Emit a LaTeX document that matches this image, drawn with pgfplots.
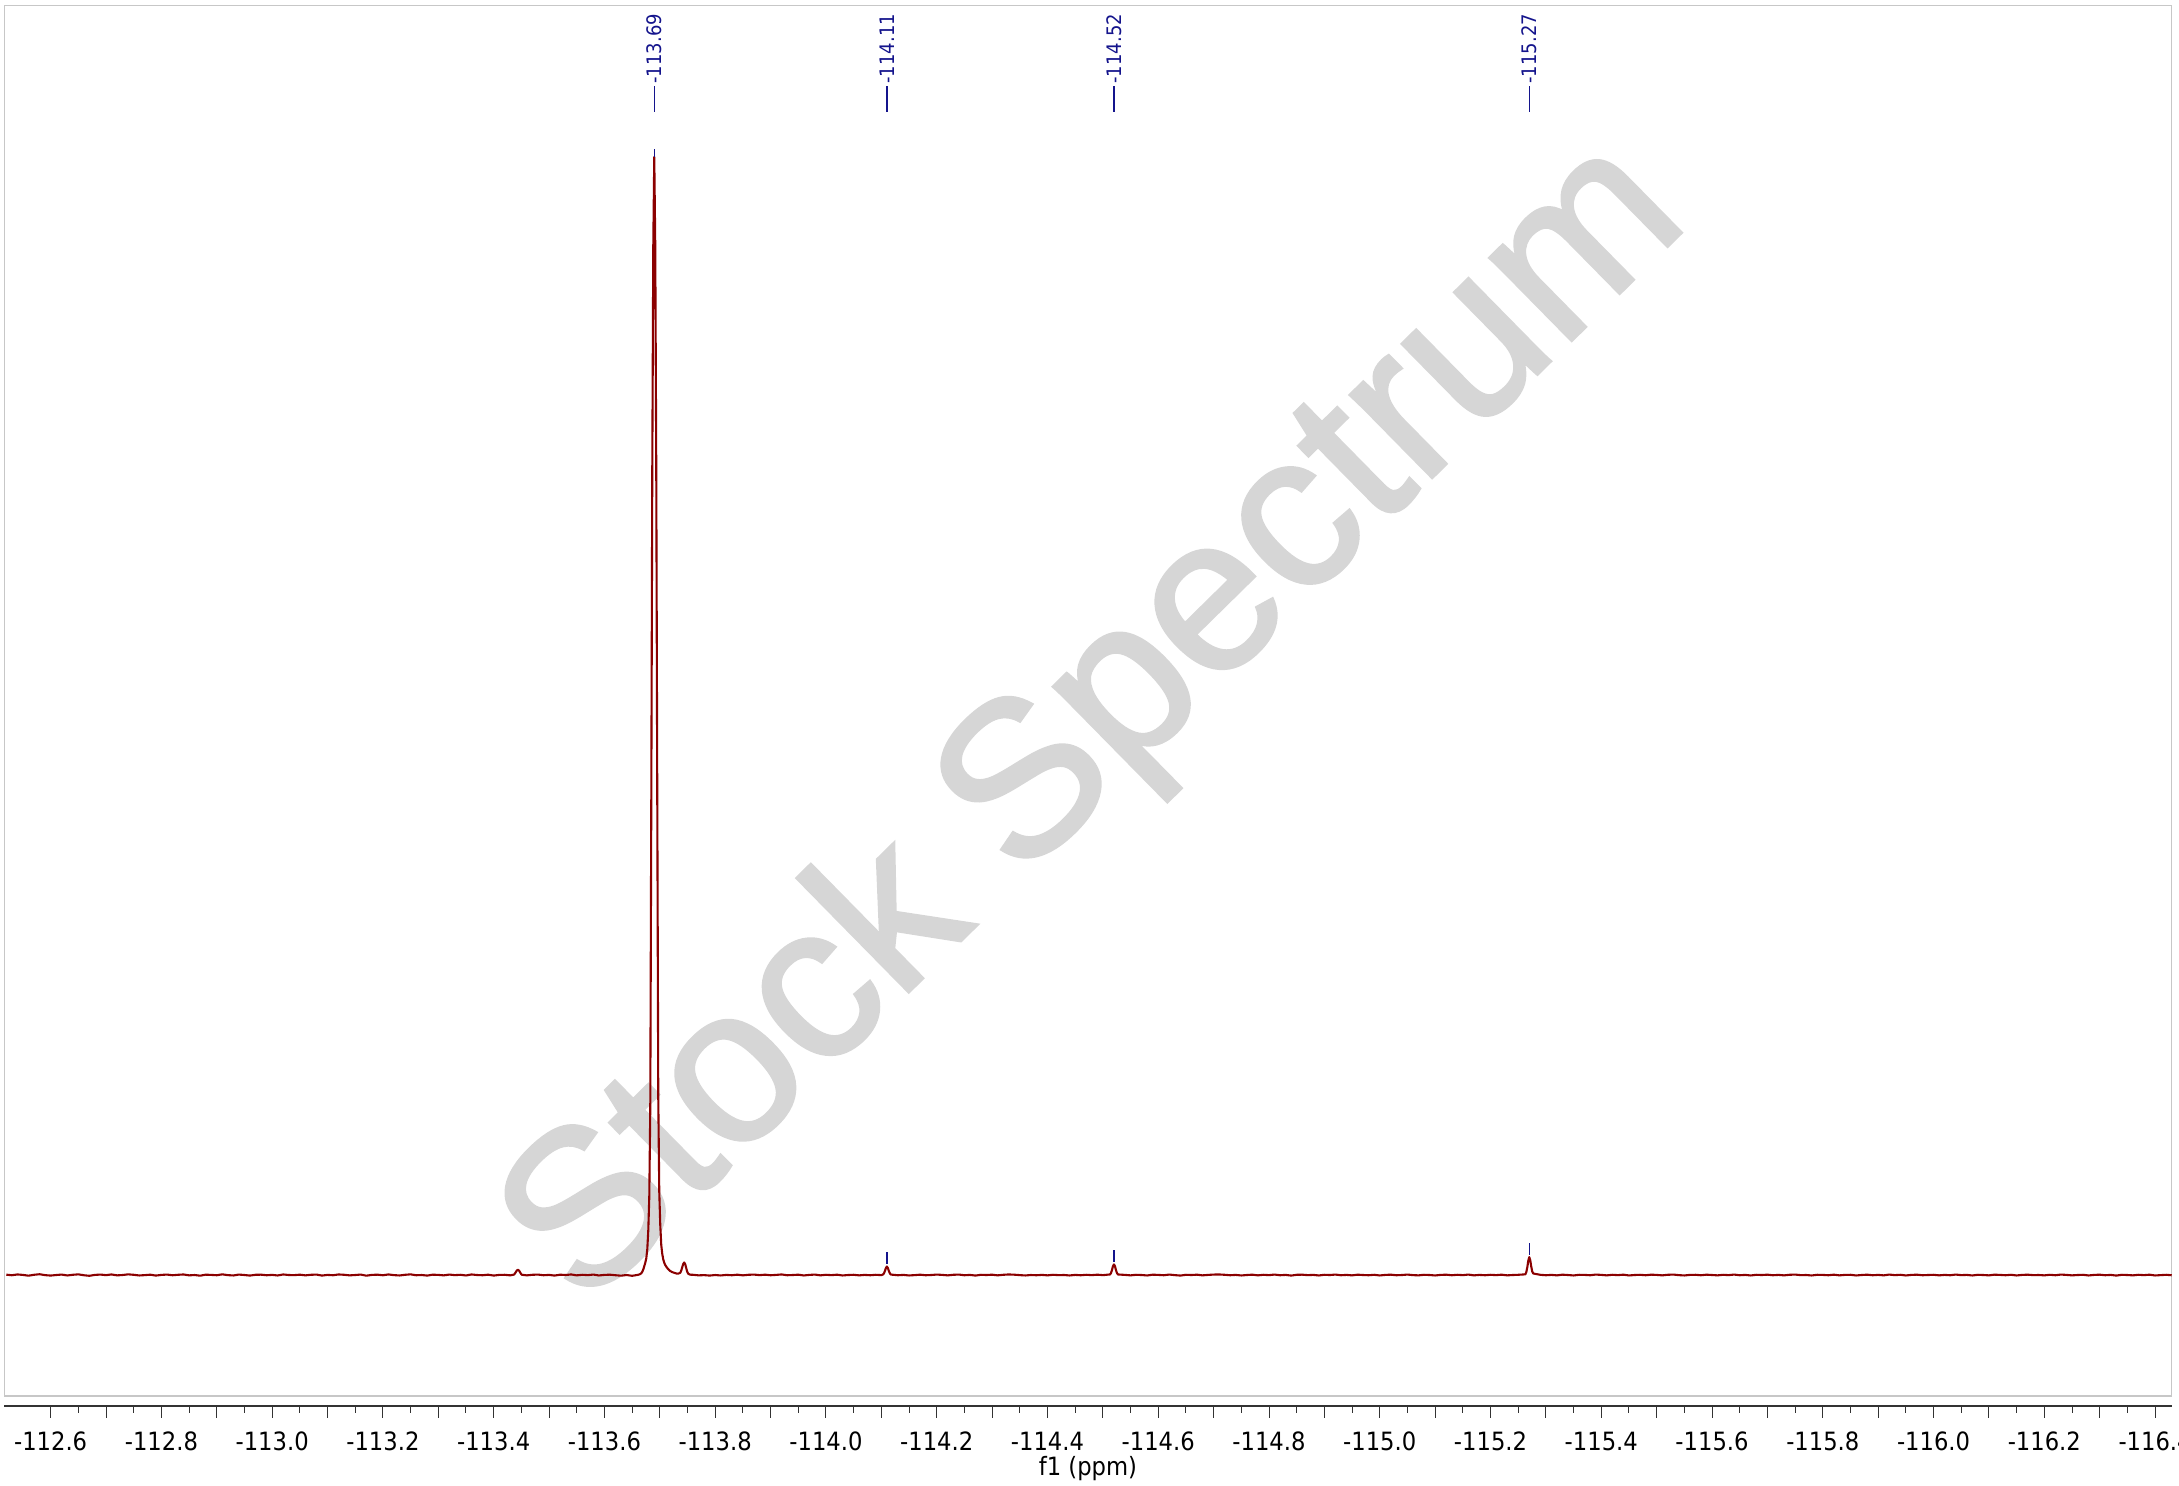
\documentclass[border=0pt]{standalone}
\usepackage{pgfplots}
\pgfplotsset{compat=1.18}
\usepackage{fontspec}
\setmainfont{Liberation Sans}
\newfontfamily\wmfont[FakeBold=1.5]{Liberation Sans}
\newfontfamily\tickfont[FakeStretch=0.9]{DejaVu Sans}
\definecolor{specred}{RGB}{139,0,0}
\definecolor{pknavy}{RGB}{20,20,140}
\begin{document}
\begin{tikzpicture}
% watermark (behind everything)
\node[rotate=44.5, text=black!16, font=\wmfont\fontsize{110}{110}\selectfont, inner sep=0pt] at (546.9pt,335pt) {Stock Spectrum};
\begin{axis}[
  at={(0pt,0pt)}, anchor=south west,
  scale only axis, width=1083.7pt, height=695.15pt,
  xmin=-116.4300, xmax=-112.5163, x dir=reverse,
  ymin=-0.1082, ymax=1.1353,
  ticks=none,
  axis line style={draw=black!22, line width=0.7pt},
  clip=false,
]
\addplot[specred, line width=1.05pt, line join=round] coordinates {
(-112.52,0.0003) (-112.53,-0.0002) (-112.54,0.0005) (-112.55,0.0001) (-112.56,-0.0006) (-112.57,0.0002) (-112.58,0.0007) (-112.59,-0.0001) (-112.60,-0.0005) (-112.61,0.0000)
(-112.62,0.0004) (-112.63,-0.0004) (-112.64,0.0002) (-112.65,0.0006) (-112.66,-0.0002) (-112.67,-0.0007) (-112.68,0.0001) (-112.69,0.0004) (-112.70,-0.0001) (-112.71,0.0005)
(-112.72,-0.0003) (-112.73,0.0000) (-112.74,0.0006) (-112.75,0.0002) (-112.76,-0.0004) (-112.77,-0.0001) (-112.78,0.0003) (-112.79,-0.0005) (-112.80,0.0001) (-112.81,0.0004)
(-112.82,-0.0002) (-112.83,0.0002) (-112.84,0.0005) (-112.85,-0.0003) (-112.86,0.0000) (-112.87,-0.0006) (-112.88,0.0003) (-112.89,0.0001) (-112.90,-0.0002) (-112.91,0.0006)
(-112.92,-0.0001) (-112.93,-0.0004) (-112.94,0.0004) (-112.95,0.0000) (-112.96,-0.0005) (-112.97,0.0002) (-112.98,0.0003) (-112.99,-0.0002) (-113.00,0.0001) (-113.01,-0.0004)
(-113.02,0.0005) (-113.03,0.0000) (-113.04,-0.0001) (-113.05,0.0003) (-113.06,-0.0003) (-113.07,0.0002) (-113.08,0.0004) (-113.09,-0.0005) (-113.10,0.0001) (-113.11,-0.0002)
(-113.12,0.0005) (-113.13,0.0002) (-113.14,-0.0003) (-113.15,0.0000) (-113.16,0.0004) (-113.17,-0.0006) (-113.18,0.0001) (-113.19,0.0003) (-113.20,-0.0002) (-113.21,0.0005)
(-113.22,-0.0001) (-113.23,-0.0004) (-113.24,0.0002) (-113.25,0.0006) (-113.26,-0.0002) (-113.27,0.0000) (-113.28,-0.0005) (-113.29,0.0003) (-113.30,0.0001) (-113.31,-0.0003)
(-113.32,0.0004) (-113.33,-0.0001) (-113.34,0.0002) (-113.35,-0.0004) (-113.36,0.0005) (-113.37,0.0000) (-113.38,-0.0002) (-113.39,0.0003) (-113.40,-0.0005) (-113.41,0.0001)
(-113.42,0.0002) (-113.43,-0.0003)
(-113.4368,0.0004) (-113.4386,0.0015) (-113.4404,0.0030) (-113.4422,0.0042) (-113.4440,0.0046) (-113.4458,0.0040) (-113.4476,0.0025) (-113.4494,0.0010) (-113.4512,0.0002)
(-113.46,-0.0003) (-113.47,0.0002) (-113.48,0.0004) (-113.49,-0.0002) (-113.50,0.0001) (-113.51,-0.0005) (-113.52,0.0003) (-113.53,0.0000) (-113.54,0.0005) (-113.55,-0.0003)
(-113.56,0.0002) (-113.57,-0.0001) (-113.58,0.0004) (-113.59,-0.0004) (-113.60,0.0001) (-113.61,0.0003) (-113.62,-0.0002) (-113.63,-0.0006) (-113.64,0.0000) (-113.65,-0.0007)
(-113.66,0.0001)
(-113.6630,0.0005) (-113.6666,0.0015) (-113.6684,0.0030) (-113.6702,0.0050) (-113.6720,0.0080) (-113.6738,0.0110) (-113.6756,0.0150) (-113.6774,0.0230) (-113.6792,0.0400)
(-113.6810,0.0700) (-113.6828,0.1500) (-113.6846,0.4200) (-113.6864,0.7200) (-113.6882,0.9200) (-113.6900,1.0000) (-113.6918,0.9200) (-113.6936,0.7200) (-113.6954,0.4300)
(-113.6972,0.1600) (-113.6990,0.0750) (-113.7008,0.0450) (-113.7026,0.0270) (-113.7044,0.0190) (-113.7062,0.0140) (-113.7080,0.0110) (-113.7098,0.0090) (-113.7116,0.0075)
(-113.7152,0.0052) (-113.7188,0.0036) (-113.7224,0.0026) (-113.7260,0.0020) (-113.7296,0.0014) (-113.7332,0.0012) (-113.7368,0.0020) (-113.7386,0.0038) (-113.7404,0.0068)
(-113.7422,0.0098) (-113.7440,0.0112) (-113.7458,0.0098) (-113.7476,0.0064) (-113.7494,0.0030) (-113.7512,0.0012) (-113.7548,0.0003)
(-113.76,0.0002) (-113.77,-0.0003) (-113.78,-0.0001) (-113.79,-0.0005) (-113.80,0.0000) (-113.81,-0.0004) (-113.82,0.0001) (-113.83,-0.0002) (-113.84,0.0003) (-113.85,-0.0003)
(-113.86,0.0002) (-113.87,0.0004) (-113.88,-0.0001) (-113.89,0.0003) (-113.90,-0.0002) (-113.91,0.0001) (-113.92,0.0005) (-113.93,-0.0002) (-113.94,0.0000) (-113.95,0.0003)
(-113.96,-0.0004) (-113.97,0.0001) (-113.98,0.0004) (-113.99,-0.0003) (-114.00,0.0002) (-114.01,-0.0001) (-114.02,0.0003) (-114.03,-0.0004) (-114.04,0.0000) (-114.05,0.0002)
(-114.06,-0.0003) (-114.07,0.0001) (-114.08,-0.0002) (-114.09,0.0002) (-114.10,-0.0001)
(-114.1028,0.0004) (-114.1046,0.0013) (-114.1064,0.0035) (-114.1082,0.0062) (-114.1100,0.0076) (-114.1118,0.0063) (-114.1136,0.0036) (-114.1154,0.0015) (-114.1172,0.0004)
(-114.13,-0.0002) (-114.14,0.0001) (-114.15,-0.0004) (-114.16,-0.0001) (-114.17,0.0003) (-114.18,-0.0002) (-114.19,0.0000) (-114.20,0.0004) (-114.21,0.0001) (-114.22,-0.0003)
(-114.23,0.0002) (-114.24,0.0004) (-114.25,-0.0002) (-114.26,0.0001) (-114.27,-0.0005) (-114.28,0.0002) (-114.29,0.0000) (-114.30,0.0003) (-114.31,-0.0003) (-114.32,0.0002)
(-114.33,0.0005) (-114.34,0.0003) (-114.35,-0.0001) (-114.36,-0.0004) (-114.37,0.0000) (-114.38,-0.0002) (-114.39,0.0001) (-114.40,-0.0003) (-114.41,0.0002) (-114.42,-0.0001)
(-114.43,0.0000) (-114.44,-0.0004) (-114.45,0.0001) (-114.46,-0.0002) (-114.47,0.0002) (-114.48,-0.0001) (-114.49,0.0003) (-114.50,-0.0001)
(-114.5128,0.0005) (-114.5146,0.0016) (-114.5164,0.0043) (-114.5182,0.0078) (-114.5200,0.0095) (-114.5218,0.0080) (-114.5236,0.0046) (-114.5254,0.0018) (-114.5272,0.0005)
(-114.54,0.0001) (-114.55,-0.0003) (-114.56,0.0002) (-114.57,0.0000) (-114.58,-0.0004) (-114.59,0.0003) (-114.60,0.0001) (-114.61,-0.0002) (-114.62,0.0004) (-114.63,-0.0001)
(-114.64,-0.0005) (-114.65,0.0002) (-114.66,0.0000) (-114.67,0.0003) (-114.68,-0.0003) (-114.69,0.0001) (-114.70,0.0004) (-114.71,0.0005) (-114.72,0.0002) (-114.73,-0.0002)
(-114.74,0.0001) (-114.75,-0.0004) (-114.76,0.0000) (-114.77,0.0003) (-114.78,-0.0003) (-114.79,0.0002) (-114.80,-0.0001) (-114.81,0.0004) (-114.82,-0.0002) (-114.83,0.0001)
(-114.84,-0.0005) (-114.85,0.0002) (-114.86,0.0003) (-114.87,-0.0001) (-114.88,0.0001) (-114.89,-0.0004) (-114.90,0.0002) (-114.91,0.0000) (-114.92,0.0004) (-114.93,-0.0002)
(-114.94,0.0001) (-114.95,-0.0003) (-114.96,0.0003) (-114.97,0.0000) (-114.98,-0.0002) (-114.99,0.0002) (-115.00,-0.0004) (-115.01,0.0001) (-115.02,0.0003) (-115.03,-0.0002)
(-115.04,0.0000) (-115.05,0.0004) (-115.06,-0.0001) (-115.07,-0.0003) (-115.08,0.0002) (-115.09,0.0000) (-115.10,-0.0004) (-115.11,0.0001) (-115.12,0.0003) (-115.13,-0.0002)
(-115.14,0.0002) (-115.15,-0.0001) (-115.16,0.0004) (-115.17,-0.0003) (-115.18,0.0001) (-115.19,-0.0002) (-115.20,0.0002) (-115.21,-0.0001) (-115.22,0.0003) (-115.23,-0.0003)
(-115.24,0.0000) (-115.25,0.0002)
(-115.2628,0.0006) (-115.2646,0.0025) (-115.2664,0.0068) (-115.2682,0.0128) (-115.2700,0.0160) (-115.2718,0.0132) (-115.2736,0.0074) (-115.2754,0.0030) (-115.2772,0.0014)
(-115.2800,0.0011) (-115.2830,0.0008)
(-115.29,0.0002) (-115.30,-0.0002) (-115.31,0.0001) (-115.32,-0.0003) (-115.33,0.0003) (-115.34,0.0000) (-115.35,-0.0004) (-115.36,0.0002) (-115.37,0.0001) (-115.38,-0.0002)
(-115.39,0.0004) (-115.40,0.0001) (-115.41,-0.0003) (-115.42,0.0002) (-115.43,-0.0001) (-115.44,0.0003) (-115.45,-0.0004) (-115.46,0.0000) (-115.47,0.0002) (-115.48,-0.0002)
(-115.49,0.0003) (-115.50,0.0001) (-115.51,-0.0003) (-115.52,0.0002) (-115.53,0.0004) (-115.54,-0.0001) (-115.55,-0.0004) (-115.56,0.0001) (-115.57,0.0002) (-115.58,-0.0002)
(-115.59,0.0003) (-115.60,0.0000) (-115.61,-0.0003) (-115.62,0.0002) (-115.63,-0.0001) (-115.64,0.0004) (-115.65,-0.0002) (-115.66,0.0001) (-115.67,-0.0004) (-115.68,0.0002)
(-115.69,0.0000) (-115.70,0.0003) (-115.71,-0.0002) (-115.72,0.0001) (-115.73,-0.0003) (-115.74,0.0002) (-115.75,0.0004) (-115.76,-0.0001) (-115.77,0.0000) (-115.78,-0.0004)
(-115.79,0.0002) (-115.80,0.0001) (-115.81,-0.0002) (-115.82,0.0003) (-115.83,-0.0003) (-115.84,0.0001) (-115.85,0.0002) (-115.86,-0.0004) (-115.87,0.0000) (-115.88,0.0003)
(-115.89,-0.0002) (-115.90,0.0001) (-115.91,-0.0003) (-115.92,0.0004) (-115.93,-0.0001) (-115.94,0.0002) (-115.95,-0.0004) (-115.96,0.0001) (-115.97,0.0003) (-115.98,-0.0002)
(-115.99,0.0000) (-116.00,0.0002) (-116.01,-0.0003) (-116.02,0.0001) (-116.03,-0.0002) (-116.04,0.0004) (-116.05,-0.0001) (-116.06,0.0001) (-116.07,-0.0004) (-116.08,0.0002)
(-116.09,0.0000) (-116.10,-0.0003) (-116.11,0.0003) (-116.12,0.0001) (-116.13,-0.0002) (-116.14,0.0002) (-116.15,-0.0004) (-116.16,0.0001) (-116.17,0.0003) (-116.18,-0.0001)
(-116.19,0.0000) (-116.20,-0.0003) (-116.21,0.0002) (-116.22,-0.0002) (-116.23,0.0004) (-116.24,0.0001) (-116.25,-0.0003) (-116.26,0.0000) (-116.27,0.0002) (-116.28,-0.0004)
(-116.29,0.0001) (-116.30,0.0003) (-116.31,-0.0002) (-116.32,0.0001) (-116.33,-0.0005) (-116.34,0.0002) (-116.35,0.0000) (-116.36,-0.0003) (-116.37,0.0002) (-116.38,-0.0001)
(-116.39,0.0003) (-116.40,-0.0004) (-116.41,-0.0001) (-116.42,0.0002) (-116.43,-0.0002)
};
% peak-pick label lines
\addplot[pknavy, line width=0.7pt, forget plot] coordinates {(-113.69,1.0403) (-113.69,1.0635)};
\addplot[pknavy, line width=0.7pt, forget plot] coordinates {(-114.11,1.0403) (-114.11,1.0635)};
\addplot[pknavy, line width=0.7pt, forget plot] coordinates {(-114.52,1.0403) (-114.52,1.0635)};
\addplot[pknavy, line width=0.7pt, forget plot] coordinates {(-115.27,1.0403) (-115.27,1.0635)};
% peak markers
\addplot[pknavy, line width=0.7pt, forget plot] coordinates {(-113.69,1.0000) (-113.69,1.0072)};
\addplot[pknavy, line width=0.7pt, forget plot] coordinates {(-114.11,0.0100) (-114.11,0.0205)};
\addplot[pknavy, line width=0.7pt, forget plot] coordinates {(-114.52,0.0115) (-114.52,0.0225)};
\addplot[pknavy, line width=0.7pt, forget plot] coordinates {(-115.27,0.0180) (-115.27,0.0290)};
\begin{scope}[every node/.style={rotate=90, anchor=west, inner sep=0pt, text=pknavy, font=\tickfont\fontsize{10}{12}\selectfont}]
\node at (axis cs:-113.69,1.0653) {-113.69};
\node at (axis cs:-114.11,1.0653) {-114.11};
\node at (axis cs:-114.52,1.0653) {-114.52};
\node at (axis cs:-115.27,1.0653) {-115.27};
\end{scope}
\end{axis}
\begin{axis}[
  at={(0pt,-5pt)}, anchor=south west,
  scale only axis, width=1083.7pt, height=1pt,
  xmin=-116.4300, xmax=-112.5163, x dir=reverse,
  ymin=0, ymax=1,
  axis x line=bottom, axis y line=none,
  axis line style={-, draw=black!80, line width=0.85pt},
  xtick align=outside,
  major tick length=6pt, minor tick length=3.3pt,
  tick style={draw=black!80, line width=0.5pt},
  minor x tick num=1,
  xtick={-112.6,-112.7,-112.8,-112.9,-113.0,-113.1,-113.2,-113.3,-113.4,-113.5,-113.6,-113.7,-113.8,-113.9,-114.0,-114.1,-114.2,-114.3,-114.4,-114.5,-114.6,-114.7,-114.8,-114.9,-115.0,-115.1,-115.2,-115.3,-115.4,-115.5,-115.6,-115.7,-115.8,-115.9,-116.0,-116.1,-116.2,-116.3,-116.4},
  xticklabels={{-112.6},{},{-112.8},{},{-113.0},{},{-113.2},{},{-113.4},{},{-113.6},{},{-113.8},{},{-114.0},{},{-114.2},{},{-114.4},{},{-114.6},{},{-114.8},{},{-115.0},{},{-115.2},{},{-115.4},{},{-115.6},{},{-115.8},{},{-116.0},{},{-116.2},{},{-116.4}},
  xticklabel style={font=\tickfont\fontsize{12.6}{15}\selectfont, text=black, yshift=-3.3pt},
  clip=false,
]
\addplot[draw=none, forget plot] coordinates {(-113,0.5)};
\node[anchor=base, font=\tickfont\fontsize{12.6}{15}\selectfont, yshift=-35pt] at (rel axis cs:0.5,0) {f1 (ppm)};
\end{axis}
\pgfresetboundingbox
\path[use as bounding box] (-2.15pt,-45pt) rectangle (1087.35pt,698pt);
\end{tikzpicture}
\end{document}
